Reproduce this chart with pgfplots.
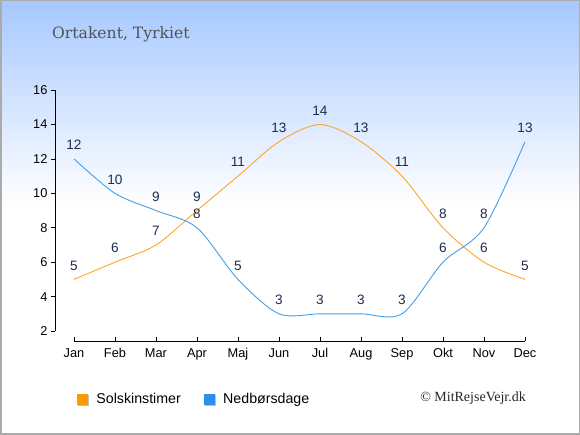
\documentclass[border=0pt]{standalone}
\usepackage{pgfplots}
\pgfplotsset{compat=1.18}
\usepackage{fontspec}
\setmainfont{Liberation Sans}
\newfontfamily\titlefont{DejaVu Serif}
\newfontfamily\copyfont{Liberation Serif}
\definecolor{sunorange}{RGB}{255,165,40}
\definecolor{sunsq}{RGB}{255,153,0}
\definecolor{rainblue}{RGB}{66,160,236}
\definecolor{rainsq}{RGB}{46,143,232}
\definecolor{topblue}{RGB}{166,200,255}
\definecolor{labelcol}{RGB}{30,45,75}
\begin{document}
\begin{tikzpicture}[x=1pt,y=1pt]
\useasboundingbox (0,0) rectangle (580,435);
\fill[white] (0,0) rectangle (580,435);
\shade[top color=topblue, bottom color=white] (0,230) rectangle (580,435);
\draw[black!33, line width=1.5pt] (0.75,0.75) rectangle (579.25,434.25);
\node[anchor=base west, font=\titlefont\fontsize{15.6}{18}\selectfont, text=black!68, inner sep=0pt] at (52,396.5) {Ortakent, Tyrkiet};
\node[anchor=base east, font=\copyfont\fontsize{14}{16}\selectfont, text=black!85, inner sep=0pt] at (526,33.5) {© MitRejseVejr.dk};
\begin{axis}[
  at={(55pt,94pt)}, anchor=south west,
  scale only axis, width=470pt, height=250.9pt,
  xmin=-0.463, xmax=11, ymin=1.42, ymax=16,
  axis lines=left, axis line style={draw=none},
  clip=false,
  xtick={0,...,11},
  xticklabels={Jan,Feb,Mar,Apr,Maj,Jun,Jul,Aug,Sep,Okt,Nov,Dec},
  ytick={2,4,...,16},
  tick align=outside, major tick length=4pt,
  tick style={black, line width=0.8pt},
  x tick style={yshift=4pt},
  /pgf/number format/assume math mode=true,
  ticklabel style={font=\fontsize{12.8}{14}\selectfont, text=black},
  nodes near coords,
  every node near coord/.append style={anchor=center, yshift=14pt, font=\fontsize{13.6}{15}\selectfont, text=labelcol},
  legend image code/.code={\fill[black!25] (1pt,-6pt) rectangle (11pt,4pt); \fill[#1] (0pt,-5pt) rectangle (10pt,5pt);},
  legend columns=2,
  legend style={at={(0.0468,-0.231)}, anchor=west, draw=none, fill=none, inner sep=0pt, outer sep=0pt,
    nodes={inner sep=0pt, font=\fontsize{14.2}{16}\selectfont, text=black},
    /tikz/every odd column/.append style={column sep=8pt},
    /tikz/every even column/.append style={column sep=23pt}},
]
\draw[black, line width=0.8pt] (axis cs:-0.463,2) -- (axis cs:-0.463,16);
\draw[black, line width=0.8pt] (axis cs:0,1.42) -- (axis cs:11,1.42);
\addplot[forget plot, smooth, sunorange, line width=0.9pt] coordinates {
(0,5) (1,6) (2,7) (3,9) (4,11) (5,13) (6,14) (7,13) (8,11) (9,8) (10,6) (11,5)};
\addplot[forget plot, smooth, rainblue, line width=0.9pt] coordinates {
(0,12) (1,10) (2,9) (3,8) (4,5) (5,3) (6,3) (7,3) (8,3) (9,6) (10,8) (11,13)};
\addlegendimage{sunsq}
\addlegendentry{Solskinstimer}
\addlegendimage{rainsq}
\addlegendentry{Nedbørsdage}
\end{axis}
\end{tikzpicture}
\end{document}
